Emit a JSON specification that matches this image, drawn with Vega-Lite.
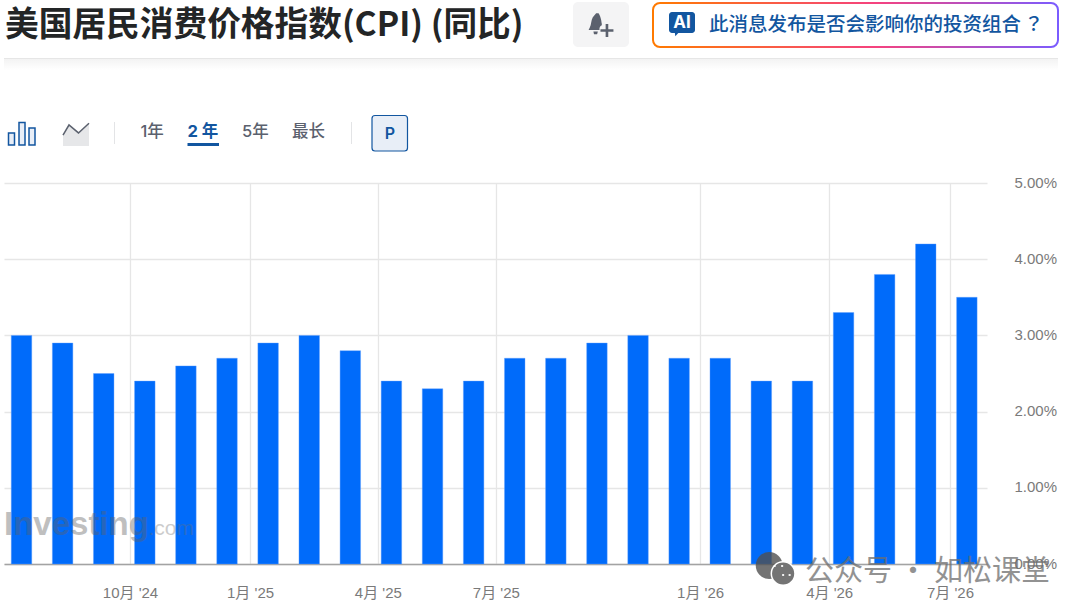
{
  "$schema": "https://vega.github.io/schema/vega-lite/v6.json",
  "description": "US CPI year over year, monthly bars with the investing.com page header",
  "background": "white",
  "padding": {"left": 4, "top": 0, "right": 0, "bottom": 0},
  "spacing": 0,
  "bounds": "flush",
  "config": {"view": {"stroke": null}, "font": "Liberation Sans"},
  "vconcat": [
    {
      "width": 1076,
      "height": 183,
      "data": {"values": [{}]},
      "layer": [
        {"mark": {"type": "text", "text": "美国居民消费价格指数(CPI) (同比)", "font": "Noto Sans CJK SC", "fontWeight": 700, "fontSize": 33.7, "fill": "#232526", "align": "left", "baseline": "middle"},
         "encoding": {"x": {"datum": 5, "type": "quantitative", "scale": {"domain": [4, 1080], "nice": false, "zero": false, "padding": 0}, "axis": null}, "y": {"datum": 26, "type": "quantitative", "scale": {"domain": [183, 0], "nice": false, "zero": false, "padding": 0}, "axis": null}}},
        {"mark": {"type": "rect", "fill": "#f4f4f5", "cornerRadius": 5},
         "encoding": {"x": {"datum": 573, "type": "quantitative", "axis": null}, "x2": {"datum": 629}, "y": {"datum": 2, "type": "quantitative", "axis": null}, "y2": {"datum": 47}}},
        {"mark": {"type": "point", "filled": true, "opacity": 1, "fill": "#5b616e", "size": 576, "shape": "M-0.32,-0.98 L-0.12,-0.98 C0.1,-0.6 0.1,-0.4 0.15,-0.1 L0.15,0.02 C-0.02,0.1 -0.06,0.25 -0.04,0.42 L-0.95,0.42 L-0.85,0.2 C-0.72,0 -0.75,-0.4 -0.6,-0.65 Z M-0.55,0.55 L-0.18,0.55 L-0.24,0.78 L-0.5,0.78 Z M0.47,-0.08 L0.69,-0.08 L0.69,0.35 L1.12,0.35 L1.12,0.57 L0.69,0.57 L0.69,1 L0.47,1 L0.47,0.57 L0.04,0.57 L0.04,0.35 L0.47,0.35 Z"},
         "encoding": {"x": {"datum": 600, "type": "quantitative", "axis": null}, "y": {"datum": 25, "type": "quantitative", "axis": null}}},
        {"mark": {"type": "rect", "fill": "white", "cornerRadius": 7, "strokeWidth": 2, "stroke": {"gradient": "linear", "x1": 0, "y1": 0, "x2": 1, "y2": 0, "stops": [{"offset": 0, "color": "#ff7a00"}, {"offset": 0.55, "color": "#f5427f"}, {"offset": 1, "color": "#7a5cff"}]}},
         "encoding": {"x": {"datum": 653, "type": "quantitative", "axis": null}, "x2": {"datum": 1058}, "y": {"datum": 3, "type": "quantitative", "axis": null}, "y2": {"datum": 47}}},
        {"mark": {"type": "rect", "fill": "#1256a0", "cornerRadius": 3},
         "encoding": {"x": {"datum": 669, "type": "quantitative", "axis": null}, "x2": {"datum": 695}, "y": {"datum": 12, "type": "quantitative", "axis": null}, "y2": {"datum": 33}}},
        {"mark": {"type": "point", "filled": true, "opacity": 1, "fill": "#1256a0", "size": 144, "shape": "M-0.6,-0.4 L0.6,-0.4 L-0.45,0.7 Z"},
         "encoding": {"x": {"datum": 678, "type": "quantitative", "axis": null}, "y": {"datum": 32, "type": "quantitative", "axis": null}}},
        {"mark": {"type": "text", "text": "AI", "font": "Inter", "fontWeight": 700, "fontSize": 17, "fill": "white", "align": "center", "baseline": "middle"},
         "encoding": {"x": {"datum": 682, "type": "quantitative", "axis": null}, "y": {"datum": 23, "type": "quantitative", "axis": null}}},
        {"mark": {"type": "text", "text": "此消息发布是否会影响你的投资组合", "font": "Noto Sans CJK SC", "fontWeight": 500, "fontSize": 19.5, "fill": "#1256a0", "align": "left", "baseline": "middle"},
         "encoding": {"x": {"datum": 709, "type": "quantitative", "axis": null}, "y": {"datum": 25, "type": "quantitative", "axis": null}}},
        {"mark": {"type": "text", "text": "？", "font": "Noto Sans CJK TC", "fontWeight": 500, "fontSize": 19.5, "fill": "#1256a0", "align": "left", "baseline": "middle"},
         "encoding": {"x": {"datum": 1024, "type": "quantitative", "axis": null}, "y": {"datum": 25, "type": "quantitative", "axis": null}}},
        {"mark": {"type": "rect", "fill": {"gradient": "linear", "x1": 0, "y1": 0, "x2": 0, "y2": 1, "stops": [{"offset": 0, "color": "#f3f3f3"}, {"offset": 1, "color": "#ffffff"}]}},
         "encoding": {"x": {"datum": 4, "type": "quantitative", "axis": null}, "x2": {"datum": 1058}, "y": {"datum": 59, "type": "quantitative", "axis": null}, "y2": {"datum": 70}}},
        {"mark": {"type": "rect", "fill": "#e6e6e6"},
         "encoding": {"x": {"datum": 4, "type": "quantitative", "axis": null}, "x2": {"datum": 1058}, "y": {"datum": 58, "type": "quantitative", "axis": null}, "y2": {"datum": 59}}},
        {"mark": {"type": "rect", "fill": "#e8eef7", "stroke": "#1256a0", "strokeWidth": 1.5},
         "encoding": {"x": {"datum": 8.5, "type": "quantitative", "axis": null}, "x2": {"datum": 14.5}, "y": {"datum": 133, "type": "quantitative", "axis": null}, "y2": {"datum": 145}}},
        {"mark": {"type": "rect", "fill": "#e8eef7", "stroke": "#1256a0", "strokeWidth": 1.5},
         "encoding": {"x": {"datum": 19, "type": "quantitative", "axis": null}, "x2": {"datum": 25}, "y": {"datum": 122.5, "type": "quantitative", "axis": null}, "y2": {"datum": 145}}},
        {"mark": {"type": "rect", "fill": "#e8eef7", "stroke": "#1256a0", "strokeWidth": 1.5},
         "encoding": {"x": {"datum": 29, "type": "quantitative", "axis": null}, "x2": {"datum": 35}, "y": {"datum": 128, "type": "quantitative", "axis": null}, "y2": {"datum": 145}}},
        {"mark": {"type": "point", "filled": true, "opacity": 1, "fill": "#e6e7e9", "size": 676, "shape": "M-1,0.04 L-0.54,-0.73 L0.19,-0.12 L1,-0.87 L1,0.88 L-1,0.88 Z"},
         "encoding": {"x": {"datum": 76, "type": "quantitative", "axis": null}, "y": {"datum": 134.5, "type": "quantitative", "axis": null}}},
        {"mark": {"type": "point", "filled": false, "opacity": 1, "stroke": "#5b616e", "strokeWidth": 1.5, "size": 676, "shape": "M-1,0.04 L-0.54,-0.73 L0.19,-0.12 L1,-0.87"},
         "encoding": {"x": {"datum": 76, "type": "quantitative", "axis": null}, "y": {"datum": 134.5, "type": "quantitative", "axis": null}}},
        {"mark": {"type": "rect", "fill": "#e3e4e6"},
         "encoding": {"x": {"datum": 114, "type": "quantitative", "axis": null}, "x2": {"datum": 115}, "y": {"datum": 122, "type": "quantitative", "axis": null}, "y2": {"datum": 144}}},
        {"mark": {"type": "text", "text": "1年", "font": "Inter, Noto Sans CJK SC", "fontWeight": 500, "fontSize": 16.5, "fill": "#5b616e", "align": "left", "baseline": "middle"},
         "encoding": {"x": {"datum": 140.5, "type": "quantitative", "axis": null}, "y": {"datum": 131.5, "type": "quantitative", "axis": null}}},
        {"mark": {"type": "text", "text": "2 年", "font": "Inter, Noto Sans CJK SC", "fontWeight": 700, "fontSize": 16.5, "fill": "#1256a0", "align": "left", "baseline": "middle"},
         "encoding": {"x": {"datum": 187.5, "type": "quantitative", "axis": null}, "y": {"datum": 131.5, "type": "quantitative", "axis": null}}},
        {"mark": {"type": "rect", "fill": "#1256a0"},
         "encoding": {"x": {"datum": 187.5, "type": "quantitative", "axis": null}, "x2": {"datum": 219}, "y": {"datum": 143, "type": "quantitative", "axis": null}, "y2": {"datum": 146}}},
        {"mark": {"type": "text", "text": "5年", "font": "Inter, Noto Sans CJK SC", "fontWeight": 500, "fontSize": 16.5, "fill": "#5b616e", "align": "left", "baseline": "middle"},
         "encoding": {"x": {"datum": 242, "type": "quantitative", "axis": null}, "y": {"datum": 131.5, "type": "quantitative", "axis": null}}},
        {"mark": {"type": "text", "text": "最长", "font": "Inter, Noto Sans CJK SC", "fontWeight": 500, "fontSize": 16.5, "fill": "#5b616e", "align": "left", "baseline": "middle"},
         "encoding": {"x": {"datum": 292, "type": "quantitative", "axis": null}, "y": {"datum": 131.5, "type": "quantitative", "axis": null}}},
        {"mark": {"type": "rect", "fill": "#e3e4e6"},
         "encoding": {"x": {"datum": 351, "type": "quantitative", "axis": null}, "x2": {"datum": 352}, "y": {"datum": 122, "type": "quantitative", "axis": null}, "y2": {"datum": 144}}},
        {"mark": {"type": "rect", "fill": "#e8eef7", "stroke": "#1256a0", "strokeWidth": 1.2, "cornerRadius": 3},
         "encoding": {"x": {"datum": 372, "type": "quantitative", "axis": null}, "x2": {"datum": 407.5}, "y": {"datum": 115.5, "type": "quantitative", "axis": null}, "y2": {"datum": 151}}},
        {"mark": {"type": "text", "text": "P", "font": "Inter", "fontWeight": 600, "fontSize": 16, "fill": "#1256a0", "align": "center", "baseline": "middle"},
         "encoding": {"x": {"datum": 390, "type": "quantitative", "axis": null}, "y": {"datum": 133.5, "type": "quantitative", "axis": null}}}
      ]
    },
    {
      "width": 983,
      "height": 381,
      "data": {"values": [{}]},
      "layer": [
        {
          "data": {"values": [
            {"period": 0, "month": "2024-07", "cpi": 3.0},
            {"period": 1, "month": "2024-08", "cpi": 2.9},
            {"period": 2, "month": "2024-09", "cpi": 2.5},
            {"period": 3, "month": "2024-10", "cpi": 2.4},
            {"period": 4, "month": "2024-11", "cpi": 2.6},
            {"period": 5, "month": "2024-12", "cpi": 2.7},
            {"period": 6, "month": "2025-01", "cpi": 2.9},
            {"period": 7, "month": "2025-02", "cpi": 3.0},
            {"period": 8, "month": "2025-03", "cpi": 2.8},
            {"period": 9, "month": "2025-04", "cpi": 2.4},
            {"period": 10, "month": "2025-05", "cpi": 2.3},
            {"period": 11, "month": "2025-06", "cpi": 2.4},
            {"period": 12, "month": "2025-07", "cpi": 2.7},
            {"period": 13, "month": "2025-08", "cpi": 2.7},
            {"period": 14, "month": "2025-09", "cpi": 2.9},
            {"period": 15, "month": "2025-10", "cpi": 3.0},
            {"period": 16, "month": "2025-11", "cpi": 2.7},
            {"period": 17, "month": "2025-12", "cpi": 2.7},
            {"period": 18, "month": "2026-01", "cpi": 2.4},
            {"period": 19, "month": "2026-02", "cpi": 2.4},
            {"period": 20, "month": "2026-03", "cpi": 3.3},
            {"period": 21, "month": "2026-04", "cpi": 3.8},
            {"period": 22, "month": "2026-05", "cpi": 4.2},
            {"period": 23, "month": "2026-06", "cpi": 3.5}
          ]},
          "mark": {"type": "bar", "size": 20.5, "fill": "#006bfa", "stroke": "#5f9fff", "strokeWidth": 0.4},
          "encoding": {
            "x": {
              "field": "period",
              "type": "quantitative",
              "title": null,
              "scale": {"domain": [-0.426, 23.49], "nice": false, "zero": false, "padding": 0},
              "axis": {
                "values": [2.64, 5.56, 8.67, 11.54, 16.51, 19.65, 22.59],
                "labelExpr": "{\"2.64\": \"10月 '24\", \"5.56\": \"1月 '25\", \"8.67\": \"4月 '25\", \"11.54\": \"7月 '25\", \"16.51\": \"1月 '26\", \"19.65\": \"4月 '26\", \"22.59\": \"7月 '26\"}[datum.value]",
                "grid": true,
                "gridColor": "#e6e6e6",
                "gridWidth": 1.3,
                "ticks": false,
                "domainColor": "#a3a3a3",
                "domainWidth": 1.5,
                "labelColor": "#7a7a7a",
                "labelFont": "Liberation Sans, Noto Sans CJK SC",
                "labelFontSize": 15,
                "labelPadding": 21,
                "labelOverlap": false,
                "labelFlush": false
              }
            },
            "y": {
              "field": "cpi",
              "type": "quantitative",
              "title": null,
              "scale": {"domain": [0, 5], "nice": false},
              "axis": {
                "orient": "right",
                "values": [0, 1, 2, 3, 4, 5],
                "labelExpr": "format(datum.value, '.2f') + '%'",
                "grid": true,
                "gridColor": "#e6e6e6",
                "gridWidth": 1.3,
                "ticks": false,
                "domain": false,
                "labelAlign": "left",
                "labelColor": "#7a7a7a",
                "labelFont": "Liberation Sans",
                "labelFontSize": 15,
                "labelPadding": 27,
                "labelOffset": -1
              }
            }
          }
        },
        {"mark": {"type": "text", "text": "Investing", "font": "Liberation Sans", "fontWeight": 700, "fontSize": 33, "fill": "#606060", "opacity": 0.4, "align": "left", "baseline": "middle"},
         "encoding": {"x": {"datum": -0.426, "type": "quantitative"}, "y": {"datum": 0.51, "type": "quantitative"}}},
        {"mark": {"type": "text", "text": ".com", "font": "Liberation Sans", "fontSize": 21, "fill": "#707070", "opacity": 0.35, "align": "left", "baseline": "middle"},
         "encoding": {"x": {"datum": 3.09, "type": "quantitative"}, "y": {"datum": 0.46, "type": "quantitative"}}},
        {"mark": {"type": "point", "filled": true, "fill": "#505050", "opacity": 0.8, "size": 720},
         "encoding": {"x": {"datum": 18.19, "type": "quantitative"}, "y": {"datum": -0.02, "type": "quantitative"}}},
        {"mark": {"type": "point", "filled": true, "fill": "#747474", "stroke": "white", "strokeWidth": 1.5, "opacity": 1, "size": 560},
         "encoding": {"x": {"datum": 18.53, "type": "quantitative"}, "y": {"datum": -0.125, "type": "quantitative"}}},
        {"mark": {"type": "point", "filled": true, "fill": "white", "opacity": 0.9, "size": 400, "shape": "M-0.95,-0.85 L-0.75,-0.85 L-0.75,-0.65 L-0.95,-0.65 Z M-0.2,-0.85 L0,-0.85 L0,-0.65 L-0.2,-0.65 Z M-0.1,0.05 L0.1,0.05 L0.1,0.25 L-0.1,0.25 Z M0.55,0.05 L0.75,0.05 L0.75,0.25 L0.55,0.25 Z"},
         "encoding": {"x": {"datum": 18.53, "type": "quantitative"}, "y": {"datum": -0.125, "type": "quantitative"}}},
        {"mark": {"type": "text", "text": "公众号 · 如松课堂", "font": "Noto Sans CJK SC", "fontSize": 29, "fill": "#6e6e6e", "opacity": 0.75, "align": "left", "baseline": "middle", "letterSpacing": 0.5},
         "encoding": {"x": {"datum": 19.06, "type": "quantitative"}, "y": {"datum": -0.105, "type": "quantitative"}}}
      ]
    }
  ]
}
